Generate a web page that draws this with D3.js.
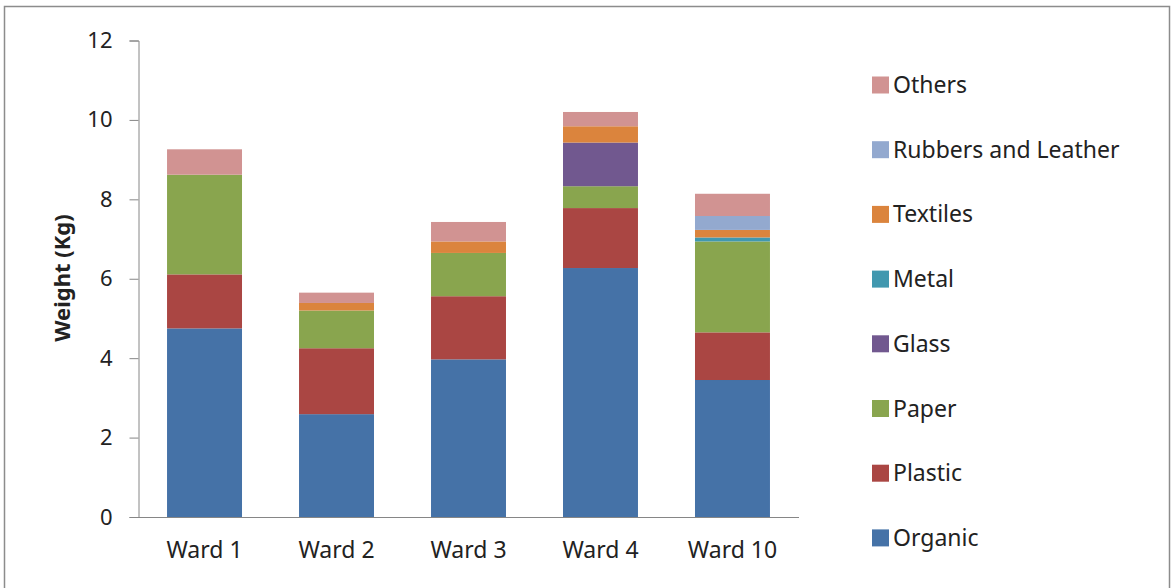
<!DOCTYPE html>
<html>
<head>
<meta charset="utf-8">
<script src="https://cdn.jsdelivr.net/npm/d3@7"></script>
<style>
  body { margin: 0; background: #fff; }
  text { font-family: "Noto Sans", "Open Sans", sans-serif; fill: #222; }
</style>
</head>
<body>
<div id="graphic"></div>
<script>
// wards along the x axis
const wards = ['Ward 1', 'Ward 2', 'Ward 3', 'Ward 4', 'Ward 10']

// waste types, bottom of the stack first
const wasteTypes = ['Organic', 'Plastic', 'Paper', 'Glass', 'Metal', 'Textiles', 'Rubbers and Leather', 'Others']

const organic  = [4.75, 2.59, 3.97, 6.27, 3.45]
const plastic  = [1.36, 1.66, 1.59, 1.51, 1.20]
const paper    = [2.51, 0.95, 1.09, 0.55, 2.29]
const glass    = [0, 0, 0, 1.10, 0]
const metal    = [0, 0, 0, 0, 0.10]
const textiles = [0, 0.19, 0.29, 0.41, 0.19]
const rubbers  = [0, 0, 0, 0, 0.35]
const others   = [0.64, 0.26, 0.49, 0.36, 0.56]

const yTicks = [0, 2, 4, 6, 8, 10, 12]

const colors = ['#4572A7', '#AA4643', '#89A54E', '#71588F', '#4198AF', '#DB843D', '#93A9CF', '#D19392']

;(function () {
  var width = 1172
  var height = 588

  var svg = d3.select('#graphic')
    .append('svg')
    .attr('width', width)
    .attr('height', height)

  // outer frame
  svg.append('rect')
    .attr('x', 4.5).attr('y', 6.5)
    .attr('width', 1165).attr('height', 600)
    .attr('fill', 'none')
    .attr('stroke', '#8c8c8c')
    .attr('stroke-width', 1.5)

  var seriesValues = [organic, plastic, paper, glass, metal, textiles, rubbers, others]
  var rows = wards.map((w, i) => {
    var row = { ward: w }
    wasteTypes.forEach((t, j) => { row[t] = seriesValues[j][i] })
    return row
  })

  var series = d3.stack().keys(wasteTypes)(rows)

  var x = d3.scaleBand()
    .domain(wards)
    .range([138, 799])
    .paddingInner(0.432)
    .paddingOuter(0.22)

  var y = d3.scaleLinear()
    .domain([0, 12])
    .range([517, 40.5])

  var color = d3.scaleOrdinal().domain(wasteTypes).range(colors)

  svg.append('g')
    .selectAll('g')
    .data(series)
    .enter().append('g')
    .attr('fill', d => color(d.key))
    .selectAll('rect')
    .data(d => d)
    .enter().append('rect')
    .attr('x', d => x(d.data.ward))
    .attr('width', x.bandwidth())
    .attr('y', d => y(d[1]))
    .attr('height', d => y(d[0]) - y(d[1]))

  // y axis
  var yAxis = svg.append('g')
    .attr('transform', 'translate(138.5,0)')
    .call(d3.axisLeft(y).tickValues(yTicks).tickSize(9).tickPadding(17))
  yAxis.select('.domain').attr('stroke', '#868686')
  yAxis.selectAll('.tick line').attr('stroke', '#868686')
  yAxis.selectAll('.tick text')
    .style('font-size', '22px')
    .attr('fill', '#222')

  // x axis
  var xAxis = svg.append('g')
    .attr('transform', 'translate(0,517.5)')
    .call(d3.axisBottom(x).tickSize(0).tickPadding(24))
  xAxis.select('.domain')
    .attr('stroke', '#868686')
    .attr('d', 'M138,0H799')
  xAxis.selectAll('.tick text')
    .style('font-size', '23px')
    .attr('fill', '#222')

  svg.append('text')
    .attr('transform', 'translate(70,278) rotate(-90)')
    .attr('text-anchor', 'middle')
    .style('font-size', '22px')
    .style('font-weight', 'bold')
    .text('Weight (Kg)')

  // legend, top entry is the top of the stack
  var legendItems = wasteTypes.slice().reverse()
  var legend = svg.append('g')
    .selectAll('g')
    .data(legendItems)
    .enter().append('g')
    .attr('transform', (d, i) => 'translate(872,' + (85 + i * 64.7) + ')')

  legend.append('rect')
    .attr('x', 0).attr('y', -8.5)
    .attr('width', 17).attr('height', 17)
    .attr('fill', d => color(d))

  legend.append('text')
    .attr('x', 21)
    .attr('dy', '0.35em')
    .style('font-size', '23px')
    .text(d => d)
})()
</script>
</body>
</html>
